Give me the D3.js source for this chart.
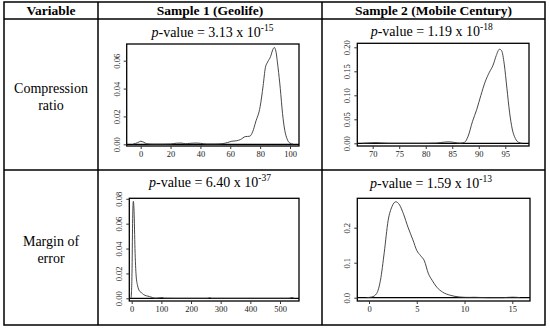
<!DOCTYPE html>
<html>
<head>
<meta charset="utf-8">
<script src="https://cdn.jsdelivr.net/npm/d3@7"></script>
<style>
  body { margin: 0; background: #fff; }
  svg text { font-family: "Liberation Serif", "Times New Roman", serif; }
</style>
</head>
<body>
<svg id="chart" width="550" height="329"></svg>
<script>
// header + row labels
var columnHeads = ["Variable", "Sample 1 (Geolife)", "Sample 2 (Mobile Century)"];
var rowLabels = [["Compression", "ratio"], ["Margin of", "error"]];

// p-values (mantissa, exponent)
var pValues = [["3.13", "-15"], ["1.19", "-18"], ["6.40", "-37"], ["1.59", "-13"]];

// density curves
var geoRatioX = [-5, -2, 0, 2, 4, 8, 15, 20, 24, 27, 30, 33, 37, 40, 44, 50, 55, 58, 61, 64, 67, 70, 73, 75, 77, 80, 82, 83.5, 85, 87, 88.5, 89.5, 90.5, 92, 93.5, 95, 96.5, 98, 100, 102];
var geoRatioY = [0.0002, 0.0012, 0.0022, 0.0015, 0.0004, 0.0001, 0.0001, 0.0002, 0.0008, 0.0009, 0.0004, 0.0007, 0.0009, 0.0007, 0.0002, 0.0002, 0.0005, 0.0012, 0.0022, 0.0025, 0.0035, 0.0055, 0.0058, 0.009, 0.016, 0.027, 0.042, 0.055, 0.059, 0.063, 0.068, 0.0695, 0.067, 0.055, 0.04, 0.022, 0.01, 0.004, 0.0008, 0.0001];

var mobRatioX = [68, 69.5, 70.5, 71.5, 73, 80, 82, 83.5, 84.5, 85.5, 86.5, 87.3, 88, 88.8, 89.6, 90.4, 91.2, 92, 92.7, 93.3, 93.9, 94.3, 94.8, 95.3, 95.8, 96.3, 96.9, 97.5, 98.2];
var mobRatioY = [0, 0.0008, 0.0015, 0.0008, 0.0001, 0, 0.0005, 0.0025, 0.003, 0.0015, 0.0003, 0.002, 0.015, 0.045, 0.07, 0.1, 0.128, 0.148, 0.163, 0.183, 0.196, 0.193, 0.165, 0.115, 0.065, 0.03, 0.01, 0.002, 0];

var geoErrorX = [-2, 1, 3, 5.5, 8, 11, 15, 20, 26, 33, 40, 50, 60, 70, 80, 95, 102, 110, 150, 255, 263, 270, 530, 540, 548];
var geoErrorY = [0, 0.02, 0.06, 0.078, 0.07, 0.04, 0.018, 0.01, 0.006, 0.0045, 0.003, 0.002, 0.0014, 0.0006, 0.0001, 0.0004, 0.0006, 0.0001, 0, 0, 0.0005, 0, 0, 0.0006, 0];

var mobErrorX = [-0.3, 0.3, 0.8, 1.2, 1.6, 2.0, 2.4, 2.8, 3.2, 3.6, 4.1, 4.6, 5.0, 5.4, 5.8, 6.2, 6.6, 7.1, 7.7, 8.5, 9.5, 10.5, 11, 11.8, 12.5, 14, 15, 15.8];
var mobErrorY = [0, 0.002, 0.012, 0.05, 0.13, 0.22, 0.26, 0.274, 0.265, 0.24, 0.2, 0.165, 0.135, 0.12, 0.105, 0.07, 0.05, 0.03, 0.016, 0.007, 0.002, 0.0008, 0.0012, 0.0005, 0, 0.0001, 0.0015, 0.0003];

// axis ticks
var geoRatioXTicks = [0, 20, 40, 60, 80, 100];
var geoRatioYTicks = [0, 0.02, 0.04, 0.06];
var mobRatioXTicks = [70, 75, 80, 85, 90, 95];
var mobRatioYTicks = [0, 0.05, 0.10, 0.15, 0.20];
var geoErrorXTicks = [0, 100, 200, 300, 400, 500];
var geoErrorYTicks = [0, 0.02, 0.04, 0.06, 0.08];
var mobErrorXTicks = [0, 5, 10, 15];
var mobErrorYTicks = [0, 0.1, 0.2];

var serif = "Liberation Serif, Times New Roman, serif";
var svg = d3.select("#chart");

// table grid
var colX = [4, 98, 322, 545];
var rowY = [2, 19, 170, 325];

svg.append("rect")
  .attr("x", colX[0]).attr("y", rowY[0])
  .attr("width", colX[3] - colX[0]).attr("height", rowY[3] - rowY[0])
  .attr("fill", "none").attr("stroke", "#000").attr("stroke-width", 1.5);

[colX[1], colX[2]].forEach(function(x) {
  svg.append("line").attr("x1", x).attr("x2", x).attr("y1", rowY[0]).attr("y2", rowY[3])
    .attr("stroke", "#000").attr("stroke-width", 1.5);
});
[rowY[1], rowY[2]].forEach(function(y) {
  svg.append("line").attr("x1", colX[0]).attr("x2", colX[3]).attr("y1", y).attr("y2", y)
    .attr("stroke", "#000").attr("stroke-width", 1.5);
});

// header
columnHeads.forEach(function(h, i) {
  svg.append("text")
    .attr("x", (colX[i] + colX[i + 1]) / 2).attr("y", 15)
    .attr("text-anchor", "middle")
    .attr("font-family", serif)
    .style("font-size", "13.5px").style("font-weight", "bold")
    .text(h);
});

// row labels
var rowLabelY = [[92.5, 109.5], [246, 262.5]];
rowLabels.forEach(function(lines, r) {
  lines.forEach(function(t, j) {
    svg.append("text")
      .attr("x", 51).attr("y", rowLabelY[r][j])
      .attr("text-anchor", "middle")
      .attr("font-family", serif)
      .style("font-size", "14px")
      .text(t);
  });
});

// panels: pixel frame of each plot box + data
var panels = [
  { xs: geoRatioX, ys: geoRatioY, xt: geoRatioXTicks, yt: geoRatioYTicks, fmt: ".2f",
    box: [126.7, 44, 299, 146], xd: [0, 100], xr: [140.7, 290], yd: [0, 0.06], yr: [144.3, 60.7],
    title: [212.5, 36.8], p: pValues[0] },
  { xs: mobRatioX, ys: mobRatioY, xt: mobRatioXTicks, yt: mobRatioYTicks, fmt: ".2f",
    box: [357.3, 43.3, 529, 146], xd: [70, 95], xr: [372.7, 505.3], yd: [0, 0.2], yr: [143.3, 47.3],
    title: [431.7, 36.2], p: pValues[1] },
  { xs: geoErrorX, ys: geoErrorY, xt: geoErrorXTicks, yt: geoErrorYTicks, fmt: ".2f",
    box: [129.3, 198.3, 299, 301], xd: [0, 500], xr: [131.7, 280], yd: [0, 0.08], yr: [298.3, 198.8],
    title: [210, 187], p: pValues[2] },
  { xs: mobErrorX, ys: mobErrorY, xt: mobErrorXTicks, yt: mobErrorYTicks, fmt: ".1f",
    box: [357.3, 198.3, 530, 301], xd: [0, 15], xr: [369, 512.3], yd: [0, 0.2], yr: [297.7, 227.7],
    title: [431, 187.5], p: pValues[3] }
];

panels.forEach(function(p) {
  var g = svg.append("g");
  var x = d3.scaleLinear().domain(p.xd).range(p.xr);
  var y = d3.scaleLinear().domain(p.yd).range(p.yr);
  var b = p.box;

  // title
  var t = g.append("text")
    .attr("x", p.title[0]).attr("y", p.title[1])
    .attr("text-anchor", "middle")
    .attr("font-family", serif)
    .style("font-size", "14px");
  t.append("tspan").style("font-style", "italic").text("p");
  t.append("tspan").text("-value = " + p.p[0] + " x 10");
  t.append("tspan").attr("dy", -6).style("font-size", "9.5px").text(p.p[1]);

  // zero line
  g.append("line")
    .attr("x1", b[0]).attr("x2", b[2]).attr("y1", y(0)).attr("y2", y(0))
    .attr("stroke", "#000").attr("stroke-width", 1.3);

  // density
  var pts = p.xs.map(function(v, i) { return [v, p.ys[i]]; });
  g.append("path")
    .datum(pts)
    .attr("fill", "none").attr("stroke", "#333").attr("stroke-width", 0.9)
    .attr("d", d3.line().x(function(d) { return x(d[0]); }).y(function(d) { return y(d[1]); })
      .curve(d3.curveMonotoneX));

  // box
  g.append("rect")
    .attr("x", b[0]).attr("y", b[1])
    .attr("width", b[2] - b[0]).attr("height", b[3] - b[1])
    .attr("fill", "none").attr("stroke", "#000").attr("stroke-width", 1.3);

  // x axis
  var xa = g.append("g").attr("transform", "translate(0," + b[3] + ")")
    .call(d3.axisBottom(x).tickValues(p.xt).tickSize(3).tickPadding(1.5));
  xa.attr("font-family", serif);
  xa.select(".domain").remove();
  xa.selectAll("text").attr("font-family", serif).style("font-size", "8.5px").attr("fill", "#222");
  xa.selectAll("line").attr("stroke", "#333");

  // y axis
  var ya = g.append("g").attr("transform", "translate(" + b[0] + ",0)")
    .call(d3.axisLeft(y).tickValues(p.yt).tickSize(3).tickFormat(d3.format(p.fmt)));
  ya.attr("font-family", serif);
  ya.select(".domain").remove();
  ya.selectAll("line").attr("stroke", "#333");
  ya.selectAll("text")
    .attr("font-family", serif).style("font-size", "8.5px").attr("fill", "#222")
    .attr("x", 0).attr("dy", 0)
    .attr("text-anchor", "middle")
    .attr("transform", "translate(-7,0) rotate(-90)");
});
</script>
</body>
</html>
